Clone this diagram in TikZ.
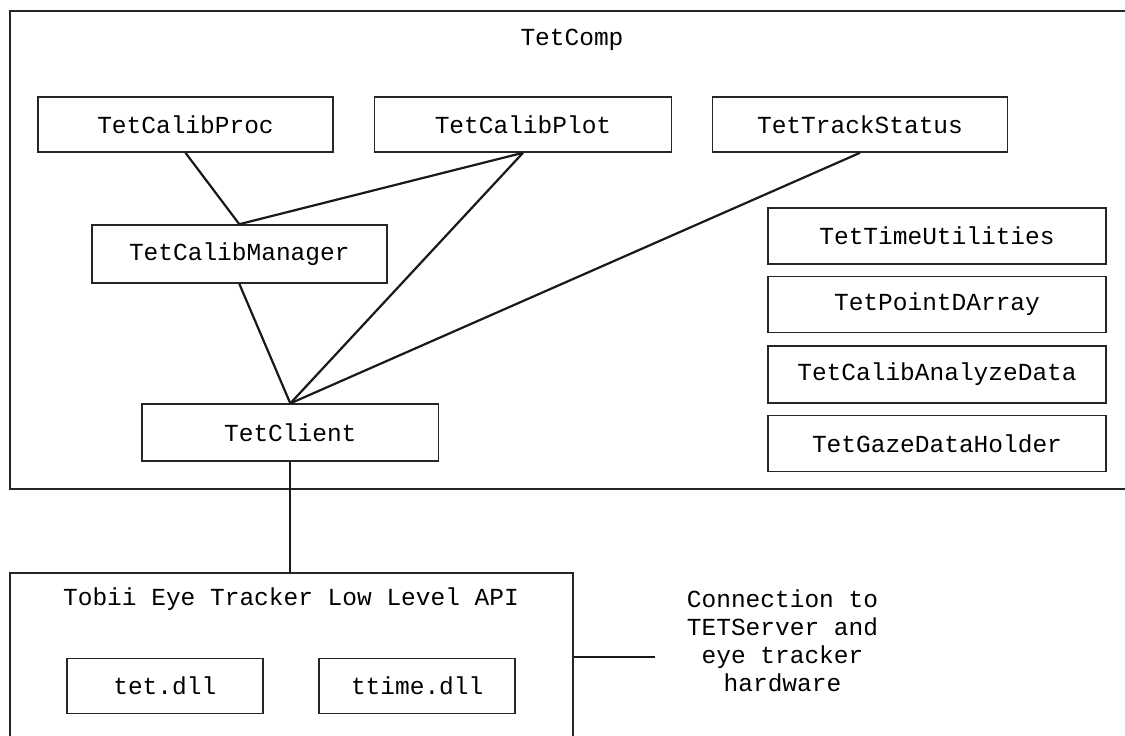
\documentclass[tikz,border=0pt]{standalone}
\usepackage{fontspec}
\setmonofont{Liberation Mono}
\begin{document}
\begin{tikzpicture}[x=1pt,y=-1pt,
  box/.style={draw=black!85, line width=1.6pt, rectangle, inner sep=0pt, font=\ttfamily\fontsize{24.5}{28}\selectfont},
  lbl/.style={inner sep=0pt, font=\ttfamily\fontsize{24.5}{28}\selectfont, align=center},
  conn/.style={draw=black!90, line width=2.2pt}]
\useasboundingbox (0,0) rectangle (1125,736);
\clip (0,0) rectangle (1125,736);
\fill[white] (0,0) rectangle (1125,736);
% outer TetComp container
\node[box, minimum width=1130pt, minimum height=478pt] (comp) at (575,250) {};
\node[lbl] (comptitle) at (572,40) {TetComp};
% boxes
\node[box, minimum width=295pt, minimum height=55pt] (proc) at (185.5,124.5) {TetCalibProc};
\node[box, minimum width=297pt, minimum height=55pt] (plot) at (523,124.5) {TetCalibPlot};
\node[box, minimum width=295pt, minimum height=55pt] (track) at (860,124.5) {TetTrackStatus};
\node[box, minimum width=295pt, minimum height=58pt] (man) at (239.3,254) {TetCalibManager};
\node[box, minimum width=296.6pt, minimum height=57pt] (client) at (290.3,432.7) {TetClient};
\node[box, minimum width=338pt, minimum height=55.7pt] (time) at (937,236) {TetTimeUtilities};
\node[box, minimum width=338pt, minimum height=55.7pt] (pda) at (937,304.5) {TetPointDArray};
\node[box, minimum width=338pt, minimum height=57pt] (cad) at (937,374.2) {TetCalibAnalyzeData};
\node[box, minimum width=338pt, minimum height=55.7pt] (gdh) at (937,443.5) {TetGazeDataHolder};
% Tobii API container
\node[box, minimum width=563pt, minimum height=180pt] (tobii) at (291.5,663) {};
\node[lbl] (tobiititle) at (291,599) {Tobii Eye Tracker Low Level API};
\node[box, minimum width=196pt, minimum height=55pt] (tet) at (164.8,685.8) {tet.dll};
\node[box, minimum width=196pt, minimum height=55pt] (ttime) at (417.2,685.8) {ttime.dll};
% external connection label
\node[lbl] (ext) at (782.5,641) {Connection to\\TETServer and\\eye tracker\\hardware};
\coordinate (extend) at (655,657);
% connectors
\draw[conn] (proc.south) -- (man.north);
\draw[conn] (plot.south) -- (man.north);
\draw[conn] (plot.south) -- (client.north);
\draw[conn] (man.south) -- (client.north);
\draw[conn] (track.south) -- (client.north);
\draw[conn] (client.south) -- (tobii.north -| client.south);
\draw[conn] (tobii.east |- extend) -- (extend);
\end{tikzpicture}
\end{document}
